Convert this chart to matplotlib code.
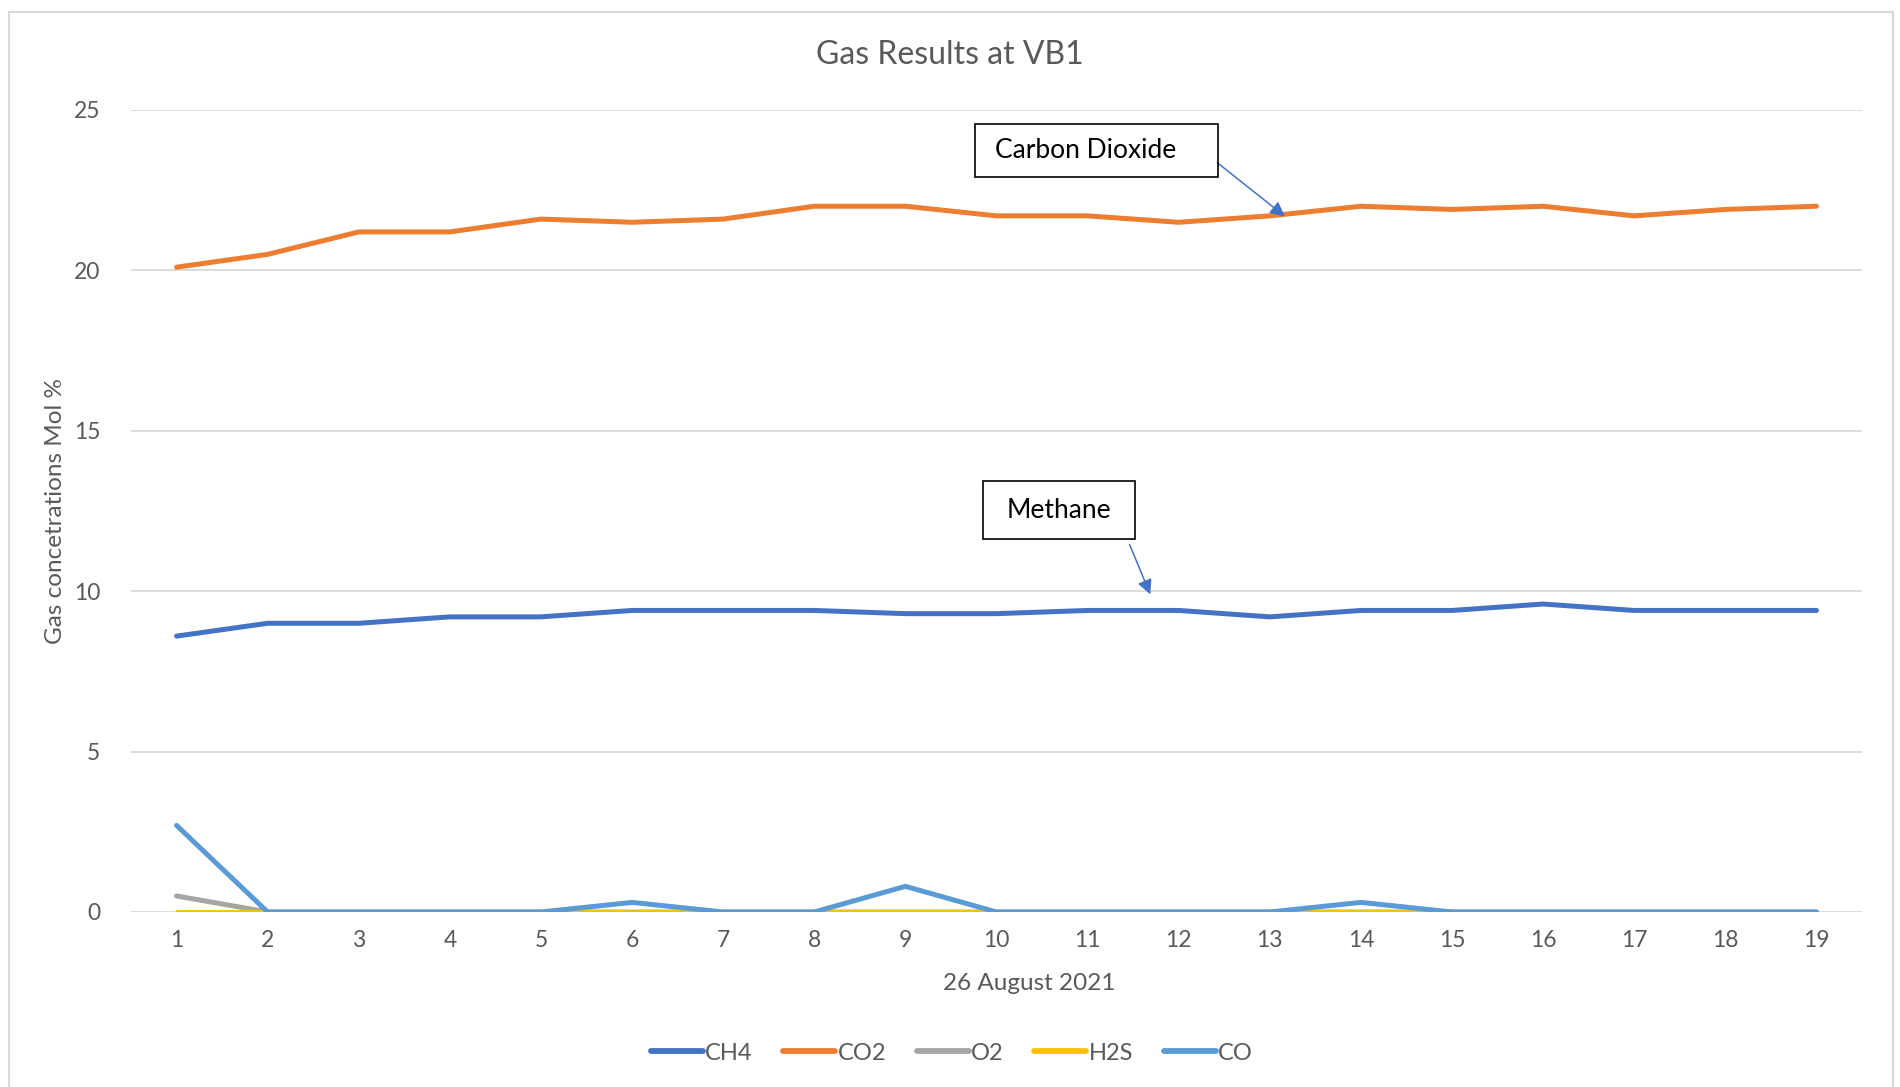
import matplotlib
matplotlib.use("Agg")
import matplotlib.pyplot as plt
from matplotlib.patches import Rectangle

plt.rcParams['font.family'] = ['Lato', 'DejaVu Sans']

# data
samples = list(range(1, 20))
ch4 = [8.6, 9.0, 9.0, 9.2, 9.2, 9.4, 9.4, 9.4, 9.3, 9.3, 9.4, 9.4, 9.2, 9.4, 9.4, 9.6, 9.4, 9.4, 9.4]
co2 = [20.1, 20.5, 21.2, 21.2, 21.6, 21.5, 21.6, 22.0, 22.0, 21.7, 21.7, 21.5, 21.7, 22.0, 21.9, 22.0, 21.7, 21.9, 22.0]
o2 = [0.5] + [0] * 18
h2s = [0] * 19
co = [2.7, 0, 0, 0, 0, 0.3, 0, 0, 0.8, 0, 0, 0, 0, 0.3, 0, 0, 0, 0, 0]

series = [("CH4", ch4, "#4472C4"),
          ("CO2", co2, "#ED7D31"),
          ("O2", o2, "#A5A5A5"),
          ("H2S", h2s, "#FFC000"),
          ("CO", co, "#5B9BD5")]

grey_txt = "#595959"

fig = plt.figure(figsize=(19, 10.87), dpi=100)
ax = fig.add_axes([131 / 1900, 175 / 1087, (1862 - 131) / 1900, (977 - 175) / 1087])

# chart frame (Excel style outer border)
fig.patches.append(Rectangle((9 / 1900, -0.05), (1893 - 9) / 1900, 1.05 - 12 / 1087,
                             transform=fig.transFigure, fill=False,
                             edgecolor="#D9D9D9", lw=1.5))

for name, vals, col in series:
    ax.plot(samples, vals, color=col, lw=3.6, label=name,
            solid_capstyle='round', solid_joinstyle='round', zorder=3)

ax.set_xlim(0.5, 19.5)
ax.set_ylim(0, 25)
ax.set_yticks([0, 5, 10, 15, 20, 25])
ax.set_xticks(samples)
ax.grid(axis='y', color="#D9D9D9", lw=1.3, zorder=0)
ax.set_axisbelow(True)
for sp in ax.spines.values():
    sp.set_visible(False)
ax.tick_params(length=0, labelsize=16.5, colors=grey_txt, pad=13)
ax.tick_params(axis='y', pad=22)

ax.set_ylabel("Gas concetrations Mol %", fontsize=17.5, color=grey_txt, labelpad=6)
fig.text(1029 / 1900, 1 - 983 / 1087, "26 August 2021", ha='center', va='center',
         fontsize=17.5, color=grey_txt)
fig.text(950 / 1900, 1 - 55 / 1087, "Gas Results at VB1", ha='center', va='center',
         fontsize=23, color=grey_txt)

# annotation boxes with arrows
ax.add_patch(Rectangle((9.76, 22.91), 12.43 - 9.76, 24.56 - 22.91, fill=False,
                       edgecolor='black', lw=1.2, zorder=5, clip_on=False))
ax.text(9.98, 23.73, "Carbon Dioxide", fontsize=19, color='black', va='center', ha='left')
ax.annotate("", xy=(13.19, 21.63), xytext=(12.40, 23.41),
            arrowprops=dict(arrowstyle='-|>', color='#4472C4', lw=1.1, mutation_scale=22))

ax.add_patch(Rectangle((9.85, 11.63), 11.52 - 9.85, 13.43 - 11.63, fill=False,
                       edgecolor='black', lw=1.2, zorder=5, clip_on=False))
ax.text(10.68, 12.53, "Methane", fontsize=19, color='black', va='center', ha='center')
ax.annotate("", xy=(11.70, 9.82), xytext=(11.45, 11.53),
            arrowprops=dict(arrowstyle='-|>', color='#4472C4', lw=1.1, mutation_scale=22))

leg = fig.legend(loc='center', bbox_to_anchor=(952 / 1900, 1 - 1053 / 1087), ncol=5,
                 frameon=False, fontsize=17, handlelength=2.2, handletextpad=0.1,
                 columnspacing=1.3)
for t in leg.get_texts():
    t.set_color(grey_txt)
for h in leg.get_lines():
    h.set_linewidth(4.2)

plt.savefig("out.png", dpi=100)
